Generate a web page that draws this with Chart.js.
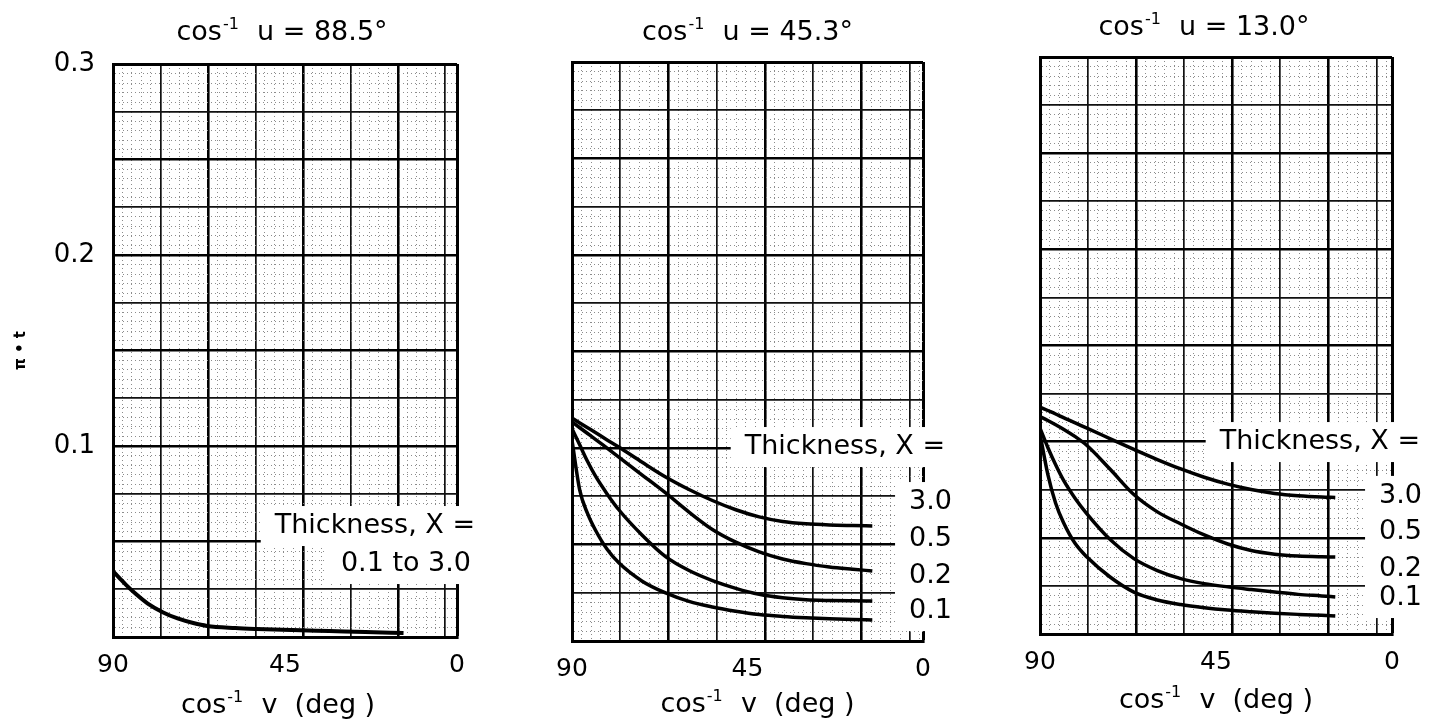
<!DOCTYPE html>
<html>
<head>
<meta charset="utf-8">
<script src="https://cdn.jsdelivr.net/npm/chart.js@4.4.1/dist/chart.umd.min.js"></script>
<style>
  html, body { margin: 0; padding: 0; background: #fff; }
  body { width: 1436px; height: 721px; position: relative; overflow: hidden; }
  canvas { position: absolute; top: 0; }
</style>
</head>
<body>
<canvas id="p1" width="478" height="721" style="left:0px"></canvas>
<canvas id="p2" width="480" height="721" style="left:478px"></canvas>
<canvas id="p3" width="478" height="721" style="left:958px"></canvas>
<script>
'use strict'

const FONT = '"DejaVu Sans", sans-serif';

// axis labels
const yTickLabels = ['0.1', '0.2', '0.3'];
const xTickLabels = [90, 45, 0];
const thicknessLabels = ['3.0', '0.5', '0.2', '0.1'];

// panel 1: cos-1 u = 88.5 deg, one curve for thickness 0.1 to 3.0
const anglesA = [90, 88, 86.6, 84, 80.9, 77, 73.1, 69, 65.4, 58, 52.4, 43, 33.4, 24, 14];
const allA = [0.0345, 0.0302, 0.0273, 0.0225, 0.0175, 0.013, 0.0097, 0.0073, 0.0058, 0.0047, 0.0042, 0.0036, 0.0031, 0.0026, 0.0021];

// panel 2: cos-1 u = 45.3 deg
const anglesB = [90, 88, 86, 84, 81, 78, 72, 66, 60, 54, 48, 42, 36, 30, 24, 18, 13];
const b30 = [0.1155, 0.113, 0.1105, 0.108, 0.1042, 0.1005, 0.0926, 0.085, 0.0785, 0.0728, 0.068, 0.0643, 0.0619, 0.0607, 0.0601, 0.0598, 0.0596];
const b05 = [0.1135, 0.1105, 0.1075, 0.1045, 0.0999, 0.0953, 0.086, 0.0767, 0.0668, 0.0578, 0.0512, 0.0462, 0.0425, 0.0401, 0.0384, 0.0372, 0.0363];
const b02 = [0.110, 0.1015, 0.093, 0.0855, 0.0762, 0.068, 0.0548, 0.0437, 0.0365, 0.0313, 0.0273, 0.0242, 0.0224, 0.0214, 0.0210, 0.0208, 0.0207];
const b01 = [0.104, 0.078, 0.066, 0.0575, 0.0475, 0.0405, 0.031, 0.0249, 0.0205, 0.0176, 0.0154, 0.0137, 0.0127, 0.0120, 0.0115, 0.0111, 0.0109];

// panel 3: cos-1 u = 13.0 deg
const anglesC = [90, 88, 86, 84, 81, 78, 72, 66, 60, 54, 48, 42, 36, 30, 24, 18, 14.5];
const c30 = [0.118, 0.1162, 0.1144, 0.1125, 0.1098, 0.107, 0.1015, 0.096, 0.0907, 0.0858, 0.0815, 0.0779, 0.0751, 0.0731, 0.0719, 0.0712, 0.071];
const c05 = [0.113, 0.111, 0.1088, 0.1065, 0.1026, 0.098, 0.0855, 0.0725, 0.0635, 0.0572, 0.0515, 0.0468, 0.0434, 0.0415, 0.0405, 0.0401, 0.040];
const c02 = [0.107, 0.097, 0.088, 0.080, 0.0705, 0.0625, 0.049, 0.0392, 0.033, 0.0288, 0.0262, 0.0245, 0.0231, 0.0218, 0.0206, 0.0198, 0.0193];
const c01 = [0.104, 0.083, 0.068, 0.058, 0.047, 0.040, 0.0295, 0.0218, 0.0177, 0.0153, 0.0137, 0.0125, 0.0116, 0.0108, 0.0102, 0.0097, 0.0094];

const toPoints = (xs, ys) => xs.map((x, i) => ({ x: x, y: ys[i] }));

const curve = (xs, ys, width) => ({
    data: toPoints(xs, ys),
    borderColor: '#000',
    borderWidth: width || 3.5,
    pointRadius: 0,
    cubicInterpolationMode: 'monotone',
    fill: false
});

// graph paper look: edge / thick / major / minor lines
const gridWidth = { edge: 3, thick: 2.6, major: 1.7, minor: 1, label: 0 };
const gridColor = { edge: '#000', thick: '#000', major: '#111', minor: '#8c8c8c', label: 'rgba(0,0,0,0)' };

const xTicks = (gridDeg) => {
    const step = gridDeg / 5;
    const ticks = [];
    for (let k = 0; 90 - k * step > 0.6; k++) {
        ticks.push({ value: 90 - k * step, kind: k % 10 === 0 ? 'thick' : (k % 5 === 0 ? 'major' : 'minor') });
    }
    ticks.push({ value: 45, kind: 'label' });
    ticks.push({ value: 0, kind: 'edge' });
    return ticks;
};

const yTicks = () => {
    const ticks = [];
    for (let k = 0; k <= 60; k++) {
        let kind = k % 10 === 0 ? 'thick' : (k % 5 === 0 ? 'major' : 'minor');
        if (k === 60) kind = 'edge';
        ticks.push({ value: +(k * 0.005).toFixed(3), kind: kind });
    }
    return ticks;
};

// "cos" with a raised "-1"
const drawCos = (ctx, cx, base, tail) => {
    const big = '27px ' + FONT, small = '16px ' + FONT;
    ctx.font = big;
    const w1 = ctx.measureText('cos').width;
    const w3 = ctx.measureText(tail).width;
    ctx.font = small;
    const w2 = ctx.measureText('-1').width + 2;
    let x = cx - (w1 + w2 + w3) / 2;
    ctx.fillStyle = '#000';
    ctx.textAlign = 'left';
    ctx.textBaseline = 'alphabetic';
    ctx.font = big;
    ctx.fillText('cos', x, base);
    ctx.font = small;
    ctx.fillText('-1', x + w1 + 1, base - 11);
    ctx.font = big;
    ctx.fillText(tail, x + w1 + w2, base);
};

const paperText = {
    id: 'paperText',
    beforeDatasetsDraw(chart, args, opts) {
        const { ctx, chartArea, scales: { y } } = chart;
        ctx.save();
        ctx.fillStyle = '#fff';
        opts.notes.forEach(n => {
            ctx.font = n.size + 'px ' + FONT;
            const w = ctx.measureText(n.text).width;
            const xr = chartArea.right + n.dx;
            const yc = y.getPixelForValue(n.y);
            const left = xr - w - 14;
            ctx.fillRect(left, yc - 20, chart.width - left, 40);
        });
        ctx.restore();
    },
    afterDatasetsDraw(chart, args, opts) {
        const { ctx, chartArea, scales: { y } } = chart;
        ctx.save();
        ctx.fillStyle = '#000';
        ctx.textAlign = 'right';
        ctx.textBaseline = 'middle';
        opts.notes.forEach(n => {
            ctx.font = n.size + 'px ' + FONT;
            ctx.fillText(n.text, chartArea.right + n.dx, y.getPixelForValue(n.y));
        });
        ctx.restore();
    },
    afterDraw(chart, args, opts) {
        const { ctx, chartArea } = chart;
        const mid = (chartArea.left + chartArea.right) / 2;
        ctx.save();
        drawCos(ctx, mid + opts.title.dx, opts.title.base, opts.title.tail);
        drawCos(ctx, mid + opts.xTitle.dx, opts.xTitle.base, '  v  (deg )');
        ctx.restore();
    }
};

const makePanel = (id, p) => {
    const canvas = document.getElementById(id);
    const W = canvas.width, H = canvas.height;
    return new Chart(canvas, {
        type: 'line',
        data: { datasets: p.datasets },
        plugins: [paperText],
        options: {
            responsive: false,
            animation: false,
            events: [],
            layout: { padding: { left: 0, top: p.area.top, right: W - p.area.right, bottom: 0 } },
            plugins: {
                legend: { display: false },
                tooltip: { enabled: false },
                paperText: { notes: p.notes, title: p.title, xTitle: p.xTitle }
            },
            scales: {
                x: {
                    type: 'linear',
                    min: 0,
                    max: 90,
                    reverse: true,
                    afterBuildTicks: s => { s.ticks = xTicks(p.gridDeg); },
                    afterFit: s => { s.height = H - p.area.bottom; },
                    grid: {
                        drawTicks: false,
                        color: c => gridColor[c.tick ? c.tick.kind : 'thick'],
                        lineWidth: c => gridWidth[c.tick ? c.tick.kind : 'thick']
                    },
                    border: {
                        display: true, color: '#000', width: 3,
                        dash: c => (c.tick && c.tick.kind === 'minor') ? [1, 3] : []
                    },
                    ticks: {
                        autoSkip: false,
                        maxRotation: 0,
                        padding: 13,
                        color: '#000',
                        font: { family: FONT, size: 25 },
                        callback: v => xTickLabels.includes(v) ? String(v) : ''
                    }
                },
                y: {
                    type: 'linear',
                    min: 0,
                    max: 0.3,
                    afterBuildTicks: s => { s.ticks = yTicks(); },
                    afterFit: s => { s.width = p.area.left; },
                    grid: {
                        drawTicks: false,
                        color: c => gridColor[c.tick ? c.tick.kind : 'thick'],
                        lineWidth: c => gridWidth[c.tick ? c.tick.kind : 'thick']
                    },
                    border: {
                        display: true, color: '#000', width: 3,
                        dash: c => (c.tick && c.tick.kind === 'minor') ? [1, 3] : []
                    },
                    title: {
                        display: p.yTitle,
                        text: 'π • t',
                        color: '#000',
                        font: { family: FONT, size: 15, weight: 'bold' },
                        padding: { top: 12, bottom: 0 }
                    },
                    ticks: {
                        display: p.yLabels,
                        autoSkip: false,
                        padding: 18,
                        color: '#000',
                        font: { family: FONT, size: 26 },
                        callback: (v, i) => (i > 0 && i % 20 === 0) ? yTickLabels[i / 20 - 1] : ''
                    }
                }
            }
        }
    });
};

makePanel('p1', {
    area: { left: 113, right: 459, top: 64, bottom: 637 },
    gridDeg: 12.42,
    yLabels: true,
    yTitle: true,
    title: { tail: '  u = 88.5°', dx: -3, base: 40 },
    xTitle: { dx: -7, base: 713 },
    datasets: [curve(anglesA, allA, 4)],
    notes: [
        { text: 'Thickness, X =', y: 0.0581, dx: 18, size: 27 },
        { text: '0.1 to 3.0', y: 0.0382, dx: 14, size: 27 }
    ]
});

makePanel('p2', {
    area: { left: 94, right: 445, top: 62, bottom: 641 },
    gridDeg: 12.37,
    yLabels: false,
    yTitle: false,
    title: { tail: '  u = 45.3°', dx: 0, base: 40 },
    xTitle: { dx: 10, base: 712 },
    datasets: [curve(anglesB, b30), curve(anglesB, b05), curve(anglesB, b02), curve(anglesB, b01)],
    notes: [
        { text: 'Thickness, X =', y: 0.1005, dx: 22, size: 27 },
        { text: thicknessLabels[0], y: 0.072, dx: 29, size: 27 },
        { text: thicknessLabels[1], y: 0.0528, dx: 29, size: 27 },
        { text: thicknessLabels[2], y: 0.0337, dx: 29, size: 27 },
        { text: thicknessLabels[3], y: 0.0155, dx: 29, size: 27 }
    ]
});

makePanel('p3', {
    area: { left: 82, right: 434, top: 57, bottom: 634 },
    gridDeg: 12.29,
    yLabels: false,
    yTitle: false,
    title: { tail: '  u = 13.0°', dx: -12, base: 35 },
    xTitle: { dx: 0, base: 708 },
    datasets: [curve(anglesC, c30), curve(anglesC, c05), curve(anglesC, c02), curve(anglesC, c01)],
    notes: [
        { text: 'Thickness, X =', y: 0.0998, dx: 28, size: 27 },
        { text: thicknessLabels[0], y: 0.0718, dx: 30, size: 27 },
        { text: thicknessLabels[1], y: 0.053, dx: 30, size: 27 },
        { text: thicknessLabels[2], y: 0.0338, dx: 30, size: 27 },
        { text: thicknessLabels[3], y: 0.0187, dx: 30, size: 27 }
    ]
});
</script>
</body>
</html>
